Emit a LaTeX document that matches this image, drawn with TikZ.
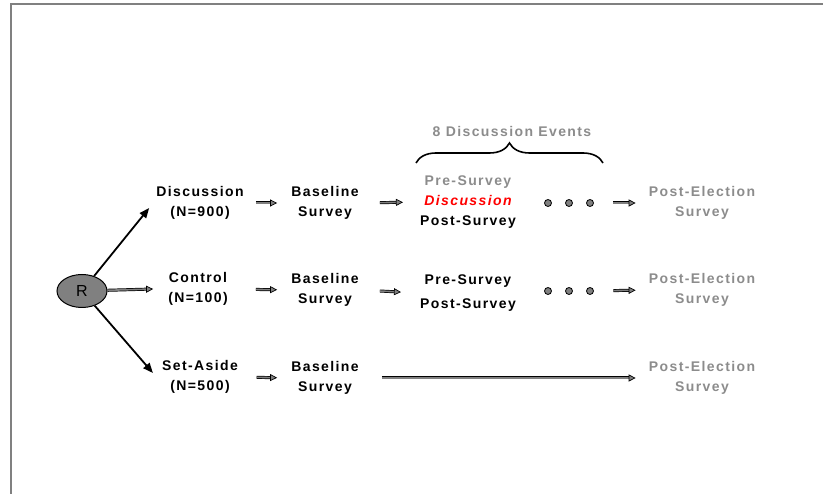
\documentclass[tikz,border=0pt]{standalone}
\usepackage{fontspec}
\setmainfont{Liberation Sans}
\newfontfamily\lab[LetterSpace=10]{Liberation Sans}
\usetikzlibrary{arrows.meta,shapes.geometric,decorations.pathreplacing}
\definecolor{txtgray}{RGB}{140,140,140}
\definecolor{arrgray}{RGB}{128,128,128}
\definecolor{redtxt}{RGB}{255,0,0}
\begin{document}
\begin{tikzpicture}[x=1pt,y=-1pt,
  lbl/.style={font=\lab\bfseries\fontsize{14}{20}\selectfont, align=center, inner sep=0pt},
  glbl/.style={lbl, text=txtgray},
  rnode/.style={ellipse, draw=black, line width=1pt, fill=arrgray, minimum width=50pt, minimum height=33pt, inner sep=0pt, font=\fontsize{16}{18}\selectfont},
  dotnode/.style={circle, draw=black, line width=0.8pt, fill=arrgray, minimum size=7pt, inner sep=0pt},
  mainarr/.style={line width=1.8pt, -{Triangle[length=10pt,width=8pt]}},
  blk/.style={draw=black, line width=0.7pt, double=arrgray, double distance=1.6pt, -{Triangle[length=7pt,width=7pt,fill=arrgray]}},
  bracestyle/.style={decorate, decoration={brace, amplitude=20pt}, line width=1.6pt}
]
\useasboundingbox (0,0) rectangle (823,494);
\draw[arrgray, line width=2pt] (11,494) -- (11,4) -- (823,4);

\node[rnode] (R) at (82,291) {R};

\node[lbl] (d1) at (200,203) {Discussion\\(N=900)};
\node[lbl] (c1) at (198,289) {Control\\(N=100)};
\node[lbl] (s1) at (200,377) {Set-Aside\\(N=500)};

\node[lbl] (b1) at (325,203) {Baseline\\Survey};
\node[lbl] (b2) at (325,290) {Baseline\\Survey};
\node[lbl] (b3) at (325,378) {Baseline\\Survey};

\node[lbl] (m1) at (468,202) {\textcolor{txtgray}{Pre-Survey}\\\textcolor{redtxt}{\itshape Discussion}\\Post-Survey};
\node[lbl] (m2) at (468,293) {Pre-Survey\\[4pt]Post-Survey};

\node[dotnode] (e1a) at (548,203) {};
\node[dotnode] (e1b) at (569,203) {};
\node[dotnode] (e1c) at (590,203) {};
\node[dotnode] (e2a) at (548,291) {};
\node[dotnode] (e2b) at (569,291) {};
\node[dotnode] (e2c) at (590,291) {};

\node[glbl] (p1) at (702,203) {Post-Election\\Survey};
\node[glbl] (p2) at (702,290) {Post-Election\\Survey};
\node[glbl] (p3) at (702,378) {Post-Election\\Survey};

\node[glbl] (t) at (512,131) {8 Discussion Events};
\coordinate (bl) at (416,163);
\coordinate (br) at (603,163);
\draw[bracestyle] (bl) -- (br);

\draw[mainarr] (R) -- ([xshift=-7pt,yshift=-5pt]d1.west);
\draw[blk] (R) -- ([xshift=-15pt]c1.west);
\draw[mainarr] (R) -- ([xshift=-9pt,yshift=4pt]s1.west);

\draw[blk, shorten <=12pt, shorten >=14pt] (d1.east) -- (b1.west);
\draw[blk, shorten <=28pt, shorten >=14pt] (c1.east) -- (b2.west);
\draw[blk, shorten <=18.5pt, shorten >=14pt] (s1.east) -- (b3.west);

\draw[blk, shorten <=21pt, shorten >=17pt] (b1.east) -- (m1.west);
\draw[blk, shorten <=21pt, shorten >=19pt] (b2.east) -- (m2.west);
\draw[blk, shorten <=23pt, shorten >=13pt] (b3.east) -- (p3.west);

\draw[blk, shorten <=19.5pt, shorten >=13pt] (e1c) -- (p1.west);
\draw[blk, shorten <=19.5pt, shorten >=13pt] (e2c) -- (p2.west);
\end{tikzpicture}
\end{document}
